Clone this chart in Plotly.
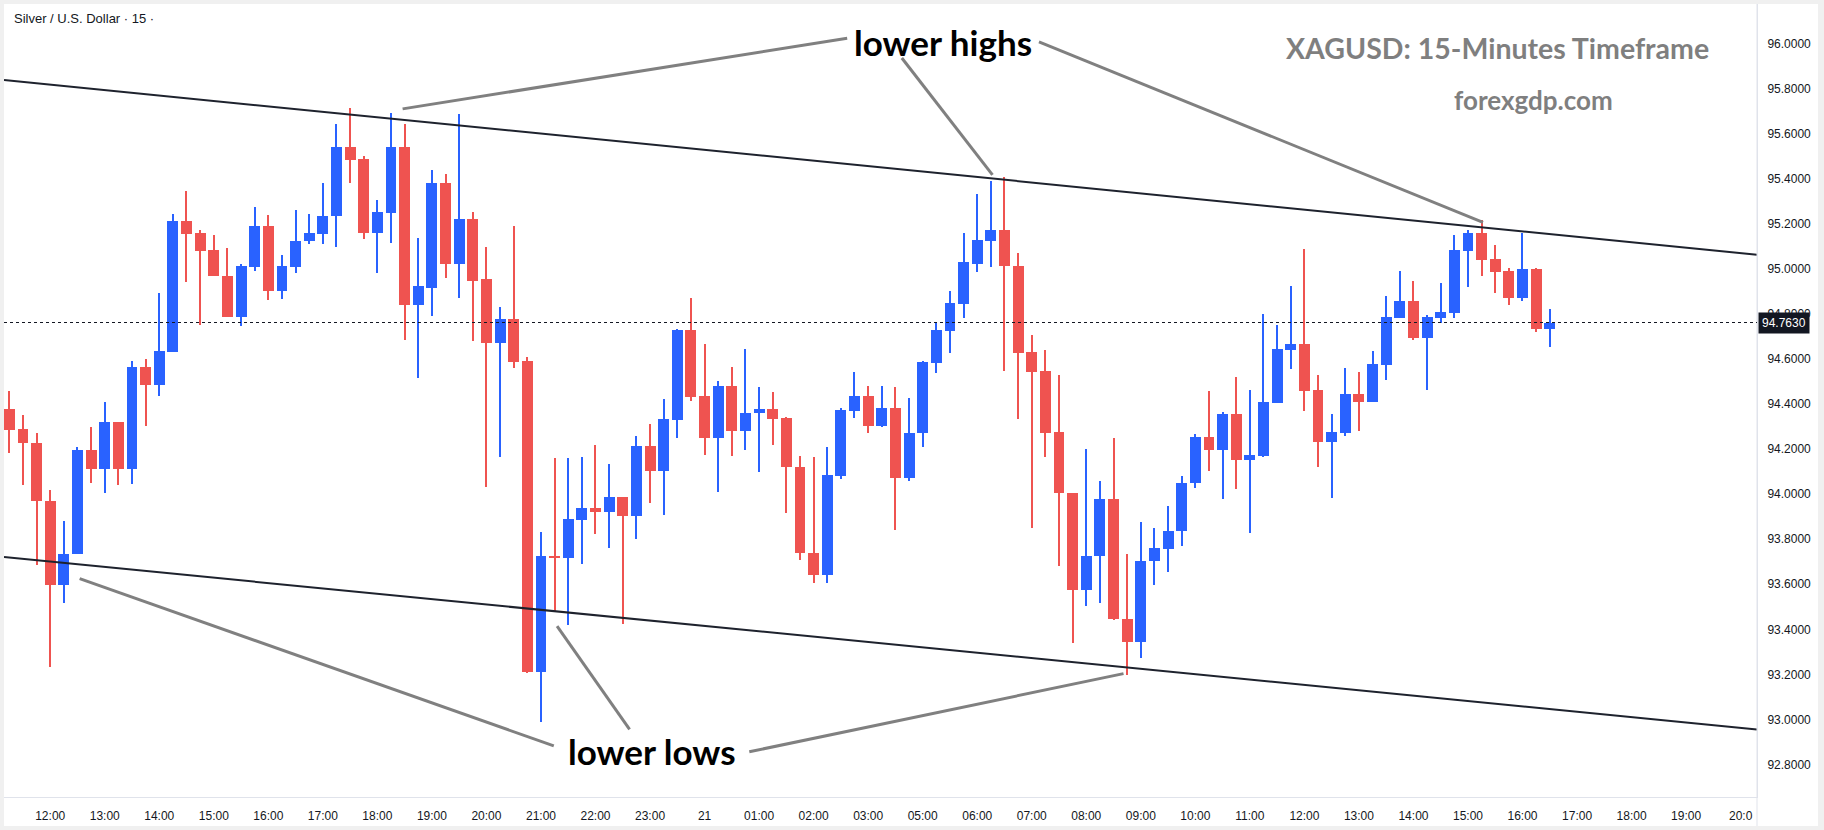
import plotly.graph_objects as go

# ---------------- data ----------------
opens = [94.378, 94.290, 94.228, 93.969, 93.596, 93.733, 94.196, 94.110, 94.321, 94.114,
         94.564, 94.487, 94.633, 95.212, 95.159, 95.083, 94.971, 94.788, 95.010, 95.190,
         94.905, 95.010, 95.124, 95.155, 95.236, 95.543, 95.491, 95.159, 95.250, 95.543,
         94.841, 94.918, 95.385, 95.025, 95.225, 94.955, 94.672, 94.777, 94.591, 93.210,
         93.726, 93.719, 93.886, 93.939, 93.919, 93.989, 93.902, 94.215, 94.105, 94.332,
         94.729, 94.435, 94.248, 94.481, 94.279, 94.360, 94.378, 94.338, 94.121, 93.741,
         93.640, 94.083, 94.371, 94.435, 94.305, 94.382, 94.070, 94.270, 94.584, 94.725,
         94.845, 95.025, 95.127, 95.175, 95.016, 94.633, 94.547, 94.277, 94.005, 93.574,
         93.724, 93.980, 93.447, 93.344, 93.702, 93.759, 93.835, 94.048, 94.255, 94.195,
         94.356, 94.150, 94.171, 94.406, 94.641, 94.667, 94.463, 94.233, 94.272, 94.444,
         94.408, 94.575, 94.784, 94.858, 94.692, 94.782, 94.804, 95.080, 95.159, 95.043,
         94.990, 94.872, 94.999, 94.733]
highs = [94.457, 94.352, 94.272, 94.018, 93.882, 94.209, 94.299, 94.409, 94.321, 94.591,
         94.600, 94.896, 95.247, 95.348, 95.175, 95.153, 95.093, 95.025, 95.278, 95.241,
         95.061, 95.265, 95.247, 95.385, 95.645, 95.717, 95.504, 95.309, 95.695, 95.645,
         95.139, 95.442, 95.423, 95.689, 95.256, 95.100, 94.832, 95.190, 94.611, 93.831,
         94.163, 94.163, 94.165, 94.217, 94.134, 93.989, 94.259, 94.312, 94.422, 94.736,
         94.870, 94.667, 94.505, 94.564, 94.644, 94.476, 94.453, 94.345, 94.171, 94.165,
         94.209, 94.382, 94.542, 94.481, 94.481, 94.476, 94.428, 94.591, 94.762, 94.905,
         95.159, 95.335, 95.390, 95.408, 95.074, 94.707, 94.639, 94.532, 94.005, 94.202,
         94.059, 94.250, 93.735, 93.877, 93.851, 93.948, 94.081, 94.268, 94.457, 94.365,
         94.520, 94.463, 94.799, 94.751, 94.927, 95.091, 94.529, 94.356, 94.560, 94.542,
         94.635, 94.880, 94.990, 94.946, 94.795, 94.938, 95.153, 95.173, 95.219, 95.109,
         95.006, 95.161, 95.006, 94.821]
lows = [94.184, 94.042, 93.684, 93.234, 93.519, 93.733, 94.051, 94.005, 94.042, 94.046,
        94.303, 94.437, 94.633, 94.942, 94.753, 94.970, 94.788, 94.747, 94.992, 94.863,
        94.867, 94.982, 95.111, 95.111, 95.098, 95.381, 95.133, 94.982, 95.118, 94.685,
        94.516, 94.790, 94.959, 94.870, 94.681, 94.033, 94.167, 94.560, 93.206, 92.990,
        93.476, 93.421, 93.691, 93.825, 93.763, 93.423, 93.800, 93.963, 93.910, 94.251,
        94.413, 94.176, 94.009, 94.172, 94.195, 94.101, 94.220, 93.915, 93.706, 93.605,
        93.605, 94.066, 94.340, 94.270, 94.299, 93.840, 94.060, 94.211, 94.538, 94.628,
        94.784, 94.988, 95.010, 94.547, 94.336, 93.849, 94.167, 93.680, 93.339, 93.502,
        93.517, 93.442, 93.197, 93.271, 93.596, 93.653, 93.768, 94.026, 94.105, 93.978,
        94.022, 93.827, 94.165, 94.406, 94.556, 94.371, 94.123, 93.985, 94.257, 94.281,
        94.408, 94.507, 94.784, 94.687, 94.464, 94.762, 94.784, 94.920, 94.971, 94.894,
        94.841, 94.859, 94.722, 94.656]
closes = [94.286, 94.226, 93.969, 93.596, 93.735, 94.196, 94.110, 94.321, 94.114, 94.564,
          94.487, 94.635, 95.212, 95.155, 95.080, 94.970, 94.788, 95.012, 95.190, 94.905,
          95.012, 95.127, 95.159, 95.238, 95.543, 95.487, 95.159, 95.256, 95.543, 94.841,
          94.924, 95.385, 95.025, 95.225, 94.949, 94.672, 94.777, 94.588, 93.210, 93.726,
          93.719, 93.891, 93.939, 93.919, 93.989, 93.902, 94.215, 94.105, 94.334, 94.729,
          94.433, 94.248, 94.481, 94.279, 94.360, 94.378, 94.336, 94.119, 93.737, 93.640,
          94.086, 94.375, 94.435, 94.305, 94.382, 94.070, 94.272, 94.586, 94.729, 94.848,
          95.030, 95.131, 95.175, 95.014, 94.628, 94.542, 94.273, 94.004, 93.574, 93.726,
          93.980, 93.445, 93.344, 93.704, 93.763, 93.838, 94.051, 94.255, 94.195, 94.356,
          94.150, 94.174, 94.409, 94.644, 94.667, 94.459, 94.233, 94.277, 94.444, 94.408,
          94.578, 94.786, 94.858, 94.692, 94.786, 94.808, 95.083, 95.159, 95.039, 94.988,
          94.872, 94.999, 94.733, 94.763]

last_price = 94.763

# 15-minute slots on the time axis (market break 04:00-05:00 on day 21)
slots = []
for day, hours in (("20", list(range(11, 24))), ("21", [h for h in range(0, 21) if h != 4])):
    for h in hours:
        for m in (0, 15, 30, 45):
            slots.append(f"{day} {h:02d}:{m:02d}")
slots = slots[slots.index("20 11:15"):]

tick_slots = ["20 12:00", "20 13:00", "20 14:00", "20 15:00", "20 16:00", "20 17:00",
              "20 18:00", "20 19:00", "20 20:00", "20 21:00", "20 22:00", "20 23:00",
              "21 00:00", "21 01:00", "21 02:00", "21 03:00", "21 05:00", "21 06:00",
              "21 07:00", "21 08:00", "21 09:00", "21 10:00", "21 11:00", "21 12:00",
              "21 13:00", "21 14:00", "21 15:00", "21 16:00", "21 17:00", "21 18:00",
              "21 19:00", "21 20:00"]
tick_labels = ["12:00", "13:00", "14:00", "15:00", "16:00", "17:00", "18:00", "19:00",
               "20:00", "21:00", "22:00", "23:00", "21", "01:00", "02:00", "03:00",
               "05:00", "06:00", "07:00", "08:00", "09:00", "10:00", "11:00", "12:00",
               "13:00", "14:00", "15:00", "16:00", "17:00", "18:00", "19:00", "20:0"]
price_ticks = [92.8, 93.0, 93.2, 93.4, 93.6, 93.8, 94.0, 94.2, 94.4, 94.6, 94.8,
               95.0, 95.2, 95.4, 95.6, 95.8, 96.0]

# hand-drawn channel lines (slot position, price)
upper_channel_x = [-0.39, 128.2]
upper_channel_y = [95.840, 95.064]
lower_channel_x = [-0.39, 128.2]
lower_channel_y = [93.721, 92.955]

# pointer lines from the labels to the swing points
pointer_lines = [
    ([61.46, 28.85], [96.026, 95.712]),
    ([65.47, 72.12], [95.938, 95.419]),
    ([75.53, 108.1], [96.010, 95.208]),
    ([5.16, 39.94], [93.625, 92.882]),
    ([40.18, 45.5], [93.414, 92.955]),
    ([54.28, 81.73], [92.856, 93.203]),
]

# ---------------- figure ----------------
UP = "#2962ff"
DOWN = "#ef5350"
x = list(range(len(opens)))
colors = [UP if c >= o else DOWN for o, c in zip(opens, closes)]
body_base = [min(o, c) for o, c in zip(opens, closes)]
body_h = [max(abs(c - o), 0.004) for o, c in zip(opens, closes)]
wick_h = [h - l for h, l in zip(highs, lows)]

fig = go.Figure()
fig.add_trace(go.Bar(x=x, y=wick_h, base=lows, width=0.08, marker_color=colors,
                     marker_line_width=0, hoverinfo="skip", showlegend=False))
fig.add_trace(go.Bar(x=x, y=body_h, base=body_base, width=0.8, marker_color=colors,
                     marker_line_width=0, hoverinfo="skip", showlegend=False))

for xs, ys in ((upper_channel_x, upper_channel_y), (lower_channel_x, lower_channel_y)):
    fig.add_trace(go.Scatter(x=xs, y=ys, mode="lines", line=dict(color="#1e222d", width=2),
                             hoverinfo="skip", showlegend=False))
for xs, ys in pointer_lines:
    fig.add_trace(go.Scatter(x=xs, y=ys, mode="lines", line=dict(color="#808080", width=3),
                             hoverinfo="skip", showlegend=False))

tickvals = [slots.index(s) for s in tick_slots]

W, H = 1824, 830
ML, MR, MT, MB = 4, 67, 4, 33
pw, ph = W - ML - MR, H - MT - MB

fig.update_layout(
    width=W, height=H, autosize=False,
    margin=dict(l=ML, r=MR, t=MT, b=MB, pad=0),
    paper_bgcolor="#f0f0f0", plot_bgcolor="#ffffff",
    barmode="overlay", bargap=0,
    xaxis=dict(range=[-0.39, 128.2], tickmode="array", tickvals=tickvals, ticktext=tick_labels,
               showgrid=False, zeroline=False, showline=True, linecolor="#e0e3eb", linewidth=1,
               ticks="", tickfont=dict(family="Liberation Sans", size=12, color="#131722"),
               ticklabelstandoff=8, fixedrange=True),
    yaxis=dict(range=[92.655, 96.178], side="right", tickmode="array", tickvals=price_ticks,
               ticktext=[f"{v:.4f}" for v in price_ticks],
               showgrid=False, zeroline=False, showline=True, linecolor="#e0e3eb", linewidth=1,
               ticks="", tickfont=dict(family="Liberation Sans", size=12, color="#131722"),
               ticklabelstandoff=7, fixedrange=True),
    font=dict(family="Liberation Sans"),
)

# white chart area including the axis strips
fig.add_shape(type="rect", xref="paper", yref="paper", x0=0, x1=(W - 6 - ML) / pw,
              y0=-(H - 4 - MT - ph) / ph, y1=1, fillcolor="#ffffff", line_width=0, layer="below")
# right axis border extending through time strip
fig.add_shape(type="line", xref="paper", yref="paper", x0=1, x1=1,
              y0=-(H - 4 - MT - ph) / ph, y1=1, line=dict(color="#e0e3eb", width=1))
# last price dotted line
fig.add_shape(type="line", xref="paper", yref="y", x0=0, x1=1, y0=last_price, y1=last_price,
              line=dict(color="#131722", width=1, dash="dot"))

fig.add_annotation(xref="paper", yref="y", x=1.0, y=last_price, xanchor="left", yanchor="middle",
                   text=f"{last_price:.4f}", showarrow=False, bgcolor="#131722",
                   font=dict(family="Liberation Sans", size=12, color="#ffffff"),
                   borderpad=3, xshift=1)

fig.add_annotation(xref="paper", yref="paper", x=8 / pw, y=(ph - 14) / ph, xanchor="left",
                   yanchor="middle", text="Silver / U.S. Dollar · 15 ·", showarrow=False,
                   font=dict(family="Liberation Sans", size=13, color="#131722"))

fig.add_annotation(x=68.5, y=96.010, text="<b>lower highs</b>", showarrow=False,
                   font=dict(family="Lato", size=35, color="#000000"))
fig.add_annotation(x=47.15, y=92.860, text="<b>lower lows</b>", showarrow=False,
                   font=dict(family="Lato", size=35, color="#000000"))
fig.add_annotation(x=109.2, y=95.983, text="<b>XAGUSD: 15-Minutes Timeframe</b>", showarrow=False,
                   font=dict(family="Lato", size=28.5, color="#7f7f7f"))
fig.add_annotation(x=111.8, y=95.750, text="<b>forexgdp.com</b>", showarrow=False,
                   font=dict(family="Lato", size=26, color="#7f7f7f"))

fig.write_html("out.html")
